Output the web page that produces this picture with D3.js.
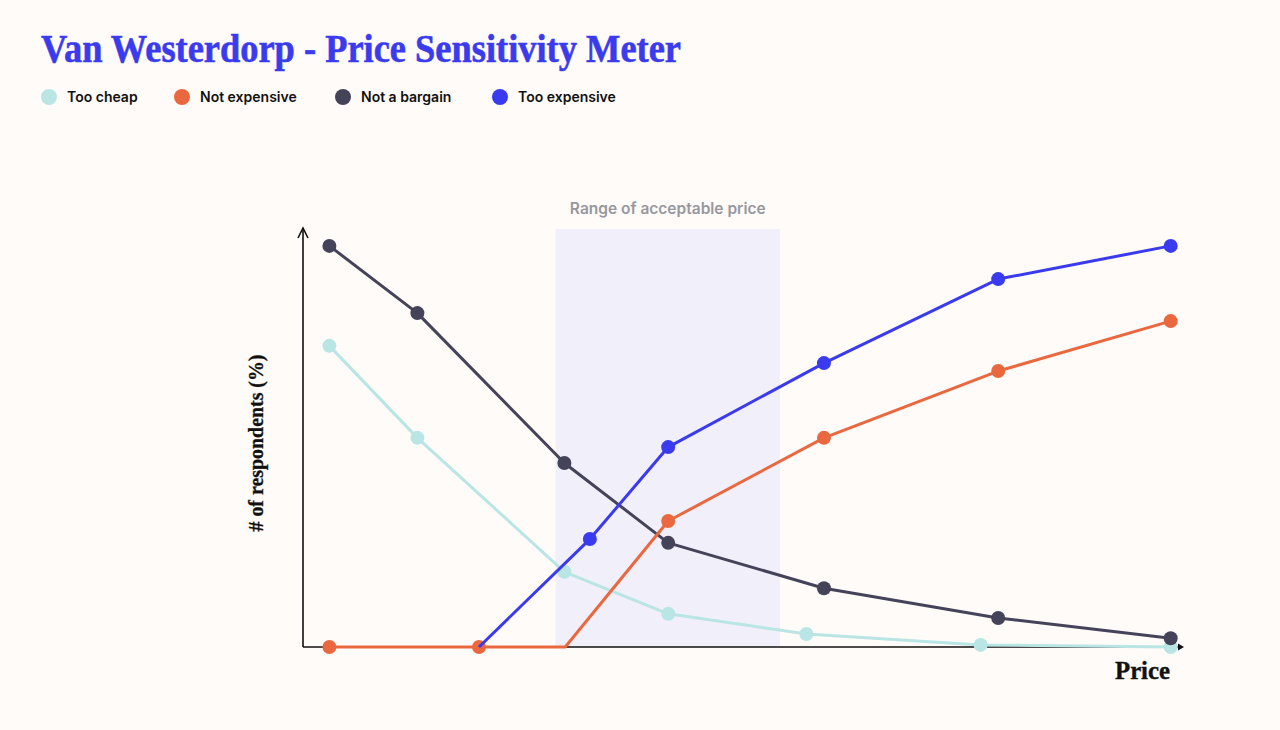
<!DOCTYPE html>
<html>
<head>
<meta charset="utf-8">
<script src="https://cdn.jsdelivr.net/npm/d3@7"></script>
<style>
  html, body { margin: 0; padding: 0; background: #fffbf8; }
  svg { display: block; }
</style>
</head>
<body>
<div id="chart"></div>
<script>
const width = 1280;
const height = 730;

// Series names and colours
const seriesNames = ["Too cheap", "Not expensive", "Not a bargain", "Too expensive"];
const seriesColors = ["#b9e5e4", "#e9683f", "#454359", "#3a3aee"];

// Price points (relative price, 0-100) and % of respondents, per series
const tooCheapPrice = [3, 13, 29.7, 41.5, 57.2, 77, 98.6];
const tooCheapValue = [71.7, 49.8, 17.9, 7.9, 3.1, 0.5, 0];

const notExpensivePrice = [3, 20, 29.8, 41.5, 59.2, 79, 98.6];
const notExpensiveValue = [0, 0, 0, 30, 49.8, 65.7, 77.6];
const notExpensiveDots = [true, true, false, true, true, true, true];

const notBargainPrice = [3, 13, 29.7, 41.5, 59.2, 79, 98.6];
const notBargainValue = [95.5, 79.5, 43.8, 24.8, 14, 6.9, 2.1];

const tooExpensivePrice = [20, 32.6, 41.5, 59.2, 79, 98.6];
const tooExpensiveValue = [0, 25.7, 47.6, 67.6, 87.6, 95.5];
const tooExpensiveDots = [false, true, true, true, true, true];

// Range of acceptable price
const acceptableRange = [28.7, 54.2];

const series = [
  { name: seriesNames[0], color: seriesColors[0], price: tooCheapPrice, value: tooCheapValue },
  { name: seriesNames[1], color: seriesColors[1], price: notExpensivePrice, value: notExpensiveValue, dots: notExpensiveDots },
  { name: seriesNames[2], color: seriesColors[2], price: notBargainPrice, value: notBargainValue },
  { name: seriesNames[3], color: seriesColors[3], price: tooExpensivePrice, value: tooExpensiveValue, dots: tooExpensiveDots }
];

const margin = { left: 303, right: 97, top: 227, bottom: 83 };
const serif = "'Liberation Serif', serif";

const x = d3.scaleLinear()
    .domain([0, 100])
    .range([margin.left, width - margin.right]);

const y = d3.scaleLinear()
    .domain([0, 100])
    .range([height - margin.bottom, margin.top]);

const svg = d3.select("#chart")
    .append("svg")
    .attr("viewBox", [0, 0, width, height])
    .attr("width", width)
    .attr("height", height);

svg.append("rect")
    .attr("width", width)
    .attr("height", height)
    .attr("fill", "#fffbf8");

// Title
svg.append("text")
    .attr("x", 41)
    .attr("y", 62)
    .attr("fill", "#3a3aee")
    .attr("font-family", serif)
    .attr("font-weight", 700)
    .attr("font-size", 41)
    .attr("stroke", "#3a3aee")
    .attr("stroke-width", 0.6)
    .attr("textLength", 640)
    .attr("lengthAdjust", "spacingAndGlyphs")
    .text("Van Westerdorp - Price Sensitivity Meter");

// Legend
const legendX = [49, 182, 343, 500];
const legend = svg.append("g")
    .selectAll("g")
    .data(series)
    .join("g")
    .attr("transform", (d, i) => `translate(${legendX[i]},97)`);

legend.append("circle")
    .attr("r", 8)
    .attr("fill", d => d.color);

legend.append("text")
    .attr("x", 18)
    .attr("dy", "0.35em")
    .attr("fill", "#111")
    .attr("font-family", "Inter, sans-serif")
    .attr("font-weight", 600)
    .attr("font-size", 14)
    .text(d => d.name);

// Acceptable range band
svg.append("rect")
    .attr("x", x(acceptableRange[0]))
    .attr("y", y(99.5))
    .attr("width", x(acceptableRange[1]) - x(acceptableRange[0]))
    .attr("height", y(0) - y(99.5))
    .attr("fill", "#f1eff9");

svg.append("text")
    .attr("x", (x(acceptableRange[0]) + x(acceptableRange[1])) / 2)
    .attr("y", 214)
    .attr("text-anchor", "middle")
    .attr("fill", "#97979f")
    .attr("font-family", "Inter, sans-serif")
    .attr("font-weight", 600)
    .attr("font-size", 15.5)
    .text("Range of acceptable price");

// Axes (plain lines with arrows)
const axis = svg.append("g")
    .attr("stroke", "#111")
    .attr("stroke-width", 1.6)
    .attr("fill", "none");

axis.append("path")
    .attr("d", `M${x(0)},${y(0)}V${y(0) - 418}`);
axis.append("path")
    .attr("d", `M${x(0) - 5},${y(0) - 409}L${x(0)},${y(0) - 419}L${x(0) + 5},${y(0) - 409}`);
axis.append("path")
    .attr("d", `M${x(0)},${y(0)}H${x(100) - 2}`);
axis.append("path")
    .attr("fill", "#111")
    .attr("stroke", "none")
    .attr("d", `M${x(100) + 1},${y(0)}L${x(100) - 5},${y(0) - 3.5}L${x(100) - 5},${y(0) + 3.5}Z`);

// Axis titles
svg.append("text")
    .attr("transform", `translate(263,443) rotate(-90)`)
    .attr("text-anchor", "middle")
    .attr("fill", "#111")
    .attr("font-family", serif)
    .attr("font-weight", 700)
    .attr("font-size", 21)
    .attr("stroke", "#111")
    .attr("stroke-width", 0.3)
    .attr("textLength", 177)
    .attr("lengthAdjust", "spacingAndGlyphs")
    .text("# of respondents (%)");

svg.append("text")
    .attr("x", 1170)
    .attr("y", 679)
    .attr("text-anchor", "end")
    .attr("fill", "#111")
    .attr("font-family", serif)
    .attr("font-weight", 700)
    .attr("font-size", 25)
    .attr("stroke", "#111")
    .attr("stroke-width", 0.4)
    .attr("textLength", 55)
    .attr("lengthAdjust", "spacingAndGlyphs")
    .text("Price");

// Lines and points
const line = d3.line()
    .x(d => x(d.p))
    .y(d => y(d.v));

const drawOrder = [0, 2, 1, 3];
drawOrder.forEach(i => {
  const s = series[i];
  const pts = s.price.map((p, j) => ({ p, v: s.value[j], dot: s.dots ? s.dots[j] : true }));
  const g = svg.append("g");
  g.append("path")
      .datum(pts)
      .attr("fill", "none")
      .attr("stroke", s.color)
      .attr("stroke-width", 3)
      .attr("stroke-linejoin", "round")
      .attr("d", line);
  g.selectAll("circle")
      .data(pts.filter(d => d.dot))
      .join("circle")
      .attr("cx", d => x(d.p))
      .attr("cy", d => y(d.v))
      .attr("r", 7)
      .attr("fill", s.color);
});
</script>
</body>
</html>
